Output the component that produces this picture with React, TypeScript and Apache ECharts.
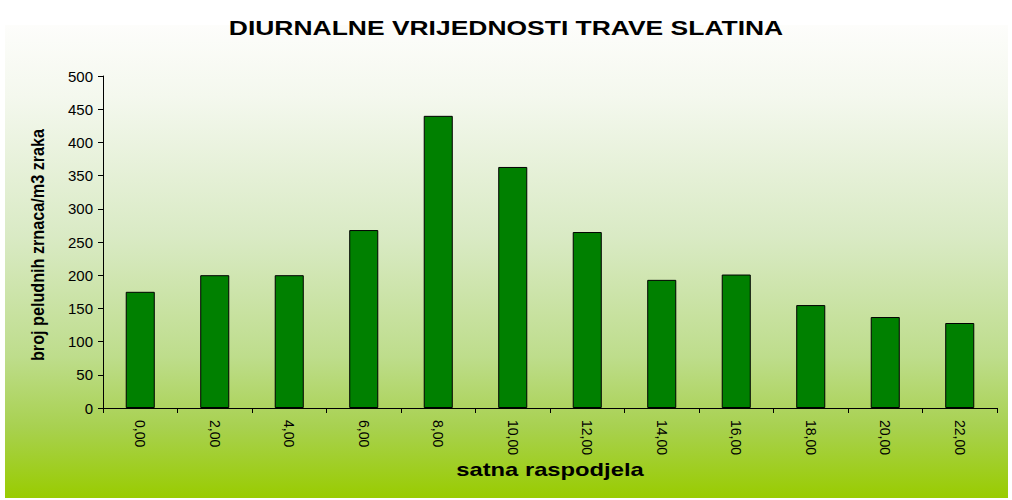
import React, { useEffect, useRef } from "react";
import * as echarts from "echarts";

const categories = ["0,00", "2,00", "4,00", "6,00", "8,00", "10,00", "12,00", "14,00", "16,00", "18,00", "20,00", "22,00"];
const values = [175, 200, 200, 268, 440, 363, 265, 193, 201, 155, 137, 128];
const yTicks = { min: 0, max: 500, interval: 50 };
const titleText = "DIURNALNE VRIJEDNOSTI TRAVE SLATINA";
const xName = "satna raspodjela";
const yName = "broj peludnih zrnaca/m3 zraka";

const FONT = "'Liberation Sans', Arial, sans-serif";

export default function App() {
  const ref = useRef<HTMLDivElement>(null);
  useEffect(() => {
    if (!ref.current) return;
    const chart = echarts.init(ref.current, null, { renderer: "svg" });
    chart.setOption({
      animation: false,
      backgroundColor: "#ffffff",
      graphic: [
        {
          type: "rect",
          z: -10,
          silent: true,
          shape: { x: 5, y: 25, width: 1003, height: 473 },
          style: {
            fill: new echarts.graphic.LinearGradient(0, 0, 0, 1, [
              { offset: 0, color: "#fdfdfb" },
              { offset: 0.15, color: "#f4f8ee" },
              { offset: 0.45, color: "#d9eac4" },
              { offset: 0.7, color: "#bedd8c" },
              { offset: 0.85, color: "#a8d150" },
              { offset: 1, color: "#99cc00" },
            ]),
          },
        },
        {
          type: "text",
          x: 506,
          y: 28,
          scaleX: 1.26,
          style: {
            text: titleText,
            font: `bold 21px ${FONT}`,
            fill: "#000",
            align: "center",
            verticalAlign: "middle",
          },
        },
        {
          type: "text",
          x: 550,
          y: 470,
          scaleX: 1.25,
          style: {
            text: xName,
            font: `bold 19px ${FONT}`,
            fill: "#000",
            align: "center",
            verticalAlign: "middle",
          },
        },
        {
          type: "text",
          x: 38,
          y: 245,
          rotation: Math.PI / 2,
          scaleX: 0.9,
          style: {
            text: yName,
            font: `bold 18px ${FONT}`,
            fill: "#000",
            align: "center",
            verticalAlign: "middle",
          },
        },
      ],
      grid: { left: 103, right: 15, top: 76, bottom: 92 },
      xAxis: {
        type: "category",
        data: categories,
        axisLine: { lineStyle: { color: "#000", width: 1 } },
        axisTick: { show: true, length: 5, lineStyle: { color: "#000" } },
        axisLabel: {
          rotate: -90,
          margin: 12,
          fontFamily: FONT,
          fontSize: 14,
          color: "#000",
        },
        splitLine: { show: false },
      },
      yAxis: {
        type: "value",
        min: yTicks.min,
        max: yTicks.max,
        interval: yTicks.interval,
        axisLine: { show: true, lineStyle: { color: "#000", width: 1 } },
        axisTick: { show: true, length: 5, lineStyle: { color: "#000" } },
        axisLabel: {
          margin: 10,
          fontFamily: FONT,
          fontSize: 15,
          color: "#000",
        },
        splitLine: { show: false },
      },
      series: [
        {
          type: "bar",
          data: values,
          barWidth: "39%",
          itemStyle: { color: "#008000", borderColor: "#000", borderWidth: 1 },
        },
      ],
    });
    return () => chart.dispose();
  }, []);
  return <div ref={ref} style={{ position: "fixed", left: 0, top: 0, width: 1012, height: 500 }} />;
}
